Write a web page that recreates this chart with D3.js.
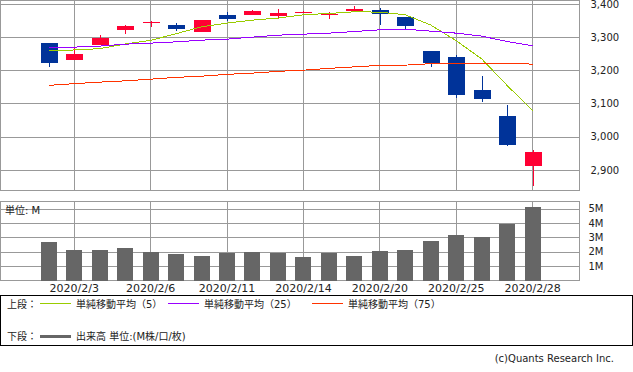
<!DOCTYPE html>
<html>
<head>
<meta charset="utf-8">
<script src="https://cdn.jsdelivr.net/npm/d3@7"></script>
<style>
body { margin: 0; background: #fff; }
text { font-family: "DejaVu Sans", "Noto Sans CJK JP", sans-serif; fill: #222; }
</style>
</head>
<body>
<svg id="chart" width="633" height="372"></svg>
<script>
// daily candles, 2020/1/31 - 2020/2/28
var dates = ["2020/1/31","2020/2/3","2020/2/4","2020/2/5","2020/2/6","2020/2/7","2020/2/10","2020/2/11",
  "2020/2/12","2020/2/13","2020/2/14","2020/2/18","2020/2/19","2020/2/20","2020/2/21","2020/2/24",
  "2020/2/25","2020/2/26","2020/2/27","2020/2/28"];
var dateLabels = ["2020/2/3","2020/2/6","2020/2/11","2020/2/14","2020/2/20","2020/2/25","2020/2/28"];

var open  = [3282.5,3231.3,3276.5,3321.7,3342.8,3336.7,3315.7,3366.9,3366.9,3363.9,3374.0,3366.9,3378.9,3381.9,3360.8,3258.4,3240.4,3141.0,3062.7,2912.0];
var high  = [3282.5,3268.4,3306.6,3336.7,3349.7,3342.8,3351.8,3375.9,3381.9,3384.9,3378.0,3375.9,3394.0,3388.0,3360.8,3258.4,3246.4,3183.1,3095.8,2960.2];
var low   = [3211.0,3231.3,3276.5,3309.6,3331.6,3318.7,3315.7,3348.8,3366.9,3357.8,3372.0,3353.3,3378.9,3336.7,3324.7,3211.1,3116.9,3104.8,2972.3,2851.8];
var close = [3223.0,3249.4,3297.6,3333.7,3346.7,3324.7,3351.8,3354.8,3378.9,3372.9,3375.9,3369.9,3384.9,3369.9,3333.7,3222.3,3125.9,3113.9,2975.3,2954.2];

var ma5  = [3260,3261,3265,3279,3290,3310,3331,3342,3351,3357,3367,3371,3376,3375,3367,3336,3289,3234,3154,3078];
var ma25 = [3269.6,3269.6,3272.6,3278.6,3281.6,3285.5,3290.7,3293.7,3299.7,3305.7,3308.7,3311.7,3316.6,3321.7,3323.8,3317.8,3311.7,3302.7,3286.4,3273.5];
var ma75 = [3154.5,3159.6,3164.2,3168.1,3173.2,3178.6,3182.2,3187.7,3191.3,3196.7,3200.3,3205.7,3210.2,3214.8,3215.4,3219.9,3221.4,3221.4,3221.4,3218.4];

// volume in millions
var volume = [2.68,2.12,2.12,2.26,1.98,1.84,1.70,1.93,1.98,1.93,1.63,1.93,1.70,2.05,2.12,2.75,3.17,3.03,3.94,5.13];

var priceTicks = [2900,3000,3100,3200,3300,3400];
var volTicks = [1,2,3,4,5];

var maNames = ["単純移動平均（5）","単純移動平均（25）","単純移動平均（75）"];
var maColors = ["#99cc00","#9900ff","#ff3300"];

var svg = d3.select("#chart");
var W = 579.5;

var x = d3.scaleBand().domain(dates).range([36, 545.4]).padding(0);
var cx = function(d){ return x(d) + x.bandwidth()/2; };
var y = d3.scaleLinear().domain([2838, 3410]).range([190.5, 0.5]);
var yv = d3.scaleLinear().domain([0, 5.5]).range([280.5, 201.5]);

function styleGrid(g) {
  g.select(".domain").remove();
  g.selectAll(".tick line").attr("stroke","#999").attr("shape-rendering","crispEdges");
}

// ---- upper panel ----
svg.append("rect").attr("x",0.5).attr("y",0.5).attr("width",W-0.5).attr("height",190)
  .attr("fill","none").attr("stroke","#999").attr("shape-rendering","crispEdges");

svg.append("g").attr("transform","translate(0,190.5)")
  .call(d3.axisBottom(x).tickValues(dateLabels).tickSize(-190).tickFormat(""))
  .call(styleGrid);

svg.append("g").attr("transform","translate(" + W + ",0)")
  .call(d3.axisRight(y).tickValues(priceTicks).tickSize(-W).tickPadding(11).tickFormat(d3.format(",")))
  .call(styleGrid)
  .call(g => g.selectAll("text").attr("font-size",10).attr("fill","#222").attr("font-family",null));

var idx = d3.range(dates.length);
var candles = svg.append("g");
candles.selectAll("line").data(idx).enter().append("line")
  .attr("x1", i => Math.round(cx(dates[i])) + 0.5)
  .attr("x2", i => Math.round(cx(dates[i])) + 0.5)
  .attr("y1", i => y(high[i]))
  .attr("y2", i => y(low[i]))
  .attr("stroke", i => close[i] >= open[i] ? "#ff0033" : "#003399")
  .attr("stroke-width",1)
  .attr("shape-rendering","crispEdges");
candles.selectAll("rect").data(idx).enter().append("rect")
  .attr("x", i => Math.round(cx(dates[i])) - 8)
  .attr("width", 17)
  .attr("y", i => y(Math.max(open[i], close[i])))
  .attr("height", i => Math.max(1, Math.abs(y(open[i]) - y(close[i]))))
  .attr("fill", i => close[i] >= open[i] ? "#ff0033" : "#003399")
  .attr("shape-rendering","crispEdges");

[ma5, ma25, ma75].forEach(function(s, k) {
  svg.append("path")
    .attr("d", d3.line().x((v,i) => cx(dates[i])).y(v => y(v))(s))
    .attr("fill","none")
    .attr("stroke", maColors[k])
    .attr("stroke-width",1)
    .attr("shape-rendering","crispEdges");
});

// ---- volume panel ----
svg.append("rect").attr("x",0.5).attr("y",201.5).attr("width",W-0.5).attr("height",79)
  .attr("fill","none").attr("stroke","#999").attr("shape-rendering","crispEdges");

svg.append("g").attr("transform","translate(" + W + ",0)")
  .call(d3.axisRight(yv).tickValues(volTicks).tickSize(-W).tickPadding(24).tickFormat(d => d + "M"))
  .call(styleGrid)
  .call(g => g.selectAll("text").attr("font-size",10).attr("fill","#222").attr("font-family",null).attr("text-anchor","end"));

svg.append("g").attr("transform","translate(0,280.5)")
  .call(d3.axisBottom(x).tickValues(dateLabels).tickSize(-79).tickPadding(3.5))
  .call(styleGrid)
  .call(g => g.selectAll("text").attr("font-size",11).attr("fill","#222").attr("font-family",null));

svg.append("g").selectAll("rect").data(idx).enter().append("rect")
  .attr("x", i => Math.round(cx(dates[i])) - 8)
  .attr("width", 16)
  .attr("y", i => yv(volume[i]))
  .attr("height", i => yv(0) - yv(volume[i]))
  .attr("fill","#666")
  .attr("shape-rendering","crispEdges");

svg.append("text").attr("x",5).attr("y",213.5).attr("font-size",10).text("単位: M");

// ---- legend ----
svg.append("rect").attr("x",0.5).attr("y",295.5).attr("width",631.5).attr("height",50)
  .attr("fill","none").attr("stroke","#000").attr("shape-rendering","crispEdges");

svg.append("text").attr("x",7).attr("y",308).attr("font-size",10).text("上段：");
var legX = [40, 168, 312];
maNames.forEach(function(name, k) {
  svg.append("line").attr("x1",legX[k]).attr("x2",legX[k]+31).attr("y1",303.5).attr("y2",303.5)
    .attr("stroke",maColors[k]).attr("stroke-width",1).attr("shape-rendering","crispEdges");
  svg.append("text").attr("x",legX[k]+36).attr("y",308).attr("font-size",10).text(name);
});

svg.append("text").attr("x",7).attr("y",339.5).attr("font-size",10).text("下段：");
svg.append("line").attr("x1",40).attr("x2",71).attr("y1",336).attr("y2",336)
  .attr("stroke","#666").attr("stroke-width",3).attr("shape-rendering","crispEdges");
svg.append("text").attr("x",76).attr("y",339.5).attr("font-size",10).text("出来高 単位:(M株/口/枚)");

svg.append("text").attr("x",614).attr("y",361.5).attr("font-size",10).attr("text-anchor","end")
  .attr("fill","#333").text("(c)Quants Research Inc.");
</script>
</body>
</html>
